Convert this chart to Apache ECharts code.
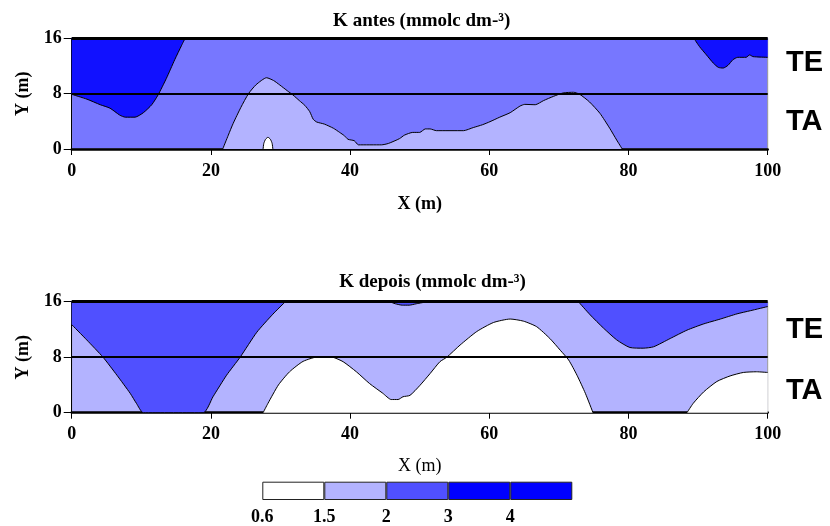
<!DOCTYPE html>
<html>
<head>
<meta charset="utf-8">
<script src="https://cdn.jsdelivr.net/npm/echarts@6/dist/echarts.min.js"></script>
<style>html,body{margin:0;padding:0;background:#fff}#c{width:830px;height:526px}</style>
</head>
<body>
<div id="c"></div>
<script>
// ---------- data ----------
const xTicks = [0, 20, 40, 60, 80, 100];
const yTicks = [0, 8, 16];
const titles = ['K antes (mmolc dm-\u00b3)', 'K depois (mmolc dm-\u00b3)'];
const layerLabels = ['TE', 'TA'];
const legendLabels = ['0.6', '1.5', '2', '3', '4', ''];
const legendColors = ['#ffffff', '#b3b3ff', '#5050ff', '#0000ff', '#0000ff'];

// K antes contours [x, y]
const antesDarkLeft = [[0,7.9],[2.2,7.2],[4.1,6.4],[5.5,5.9],[6.9,4.9],[7.7,4.6],[9.1,4.6],[10.3,5.25],[11.5,6.4],[12.4,7.8],[13.6,10.2],[14.8,12.9],[15.8,15.0],[16.3,16]];
const antesDarkRight = [[89.4,16],[90.2,14.8],[91.2,13.6],[92.2,12.4],[92.9,11.8],[93.6,11.7],[94.3,12.1],[95.0,12.9],[95.7,13.25],[96.9,13.25],[97.4,13.6],[97.9,13.35],[100,13.25]];
const antesLight = [[21.7,0],[22.5,2],[23.2,3.7],[24.3,6.0],[25.4,8.0],[26.5,9.3],[28.0,10.3],[29.0,9.9],[29.9,9.25],[31.0,8.4],[31.8,7.8],[32.7,7.0],[33.5,6.3],[34.2,5.4],[34.7,4.3],[35.2,3.9],[36.3,3.6],[37.6,3.0],[38.5,2.4],[39.2,1.9],[39.7,1.4],[40.6,1.2],[41.2,0.6],[44.5,0.6],[45.5,0.8],[47.1,1.5],[47.8,2.0],[49.0,2.4],[50.0,2.4],[50.8,2.9],[51.5,2.9],[52.4,2.65],[56.3,2.65],[57.7,3.1],[59.0,3.5],[60.1,3.95],[61.5,4.6],[63.0,5.25],[64.4,6.2],[65.1,6.45],[66.6,6.4],[67.8,7.0],[69.2,7.6],[70.6,8.1],[72.1,8.2],[73.0,7.9],[74.4,6.8],[75.9,5.15],[77.3,3.0],[78.3,1.3],[79.1,0]];
const antesWhite = [[27.5,0],[27.6,0.8],[27.85,1.4],[28.2,1.7],[28.55,1.4],[28.8,0.8],[28.9,0]];

// K depois contours [x, y]
const depoisMedLeft = [[0,12.7],[2.15,10.5],[4.5,8.0],[6.5,5.4],[8.4,2.8],[9.3,1.35],[10.3,0],[18.9,0],[20.3,2.3],[22.25,5.4],[24.2,8.0],[26.6,11.6],[28.9,14.2],[30.7,16]];
const depoisMedBlip = [[45.7,16],[46.5,15.7],[47.5,15.5],[48.5,15.5],[49.5,15.7],[51.1,16]];
const depoisMedRight = [[72.8,16],[74.5,14.1],[76.4,12.2],[78.3,10.5],[80.2,9.4],[82.1,9.3],[83.6,9.5],[86.0,10.7],[88.4,11.9],[90.8,12.8],[93.2,13.5],[95.6,14.25],[97.5,14.7],[100,15.3]];
const depoisWhiteHill = [[27.5,0],[28.2,1.35],[29.7,4.0],[31.3,5.9],[33.25,7.4],[35.6,8.1],[37.5,8.0],[39.0,7.35],[40.9,5.9],[42.8,4.2],[44.7,2.8],[45.9,1.9],[46.9,1.9],[47.6,2.3],[48.6,2.5],[50.0,3.9],[51.5,5.65],[52.9,7.35],[53.9,8.0],[55.8,9.75],[58.2,11.7],[60.6,13.0],[63.0,13.5],[64.9,13.2],[66.8,12.4],[68.7,10.7],[70.2,9.0],[71.4,7.6],[72.6,5.4],[73.8,2.8],[74.9,0]];
const depoisWhiteRight = [[88.4,0],[89.3,1.35],[90.8,3.0],[92.7,4.5],[94.6,5.3],[96.5,5.8],[98.4,5.9],[100,5.8]];

// ---------- styling ----------
const SERIF = 'Liberation Serif';
const topBase = '#7777ff', topDark = '#1111ff', light = '#b3b3ff', med = '#5050ff';

function area(gi, data, color, origin) {
  return {
    type: 'line', xAxisIndex: gi, yAxisIndex: gi, data: data,
    symbol: 'none', smooth: 0.2,
    lineStyle: { color: '#000', width: 1 },
    areaStyle: { color: color, opacity: 1, origin: origin },
    z: 2, silent: true
  };
}
function hlines(gi) {
  return {
    type: 'line', xAxisIndex: gi, yAxisIndex: gi, data: [], z: 5, silent: true,
    markLine: {
      silent: true, symbol: ['none', 'none'], label: { show: false },
      lineStyle: { color: '#000', type: 'solid' },
      data: [{ yAxis: yTicks[2], lineStyle: { width: 3 } }, { yAxis: yTicks[1], lineStyle: { width: 2 } }]
    }
  };
}
function xAx(gi, bold, gap) {
  return {
    gridIndex: gi, type: 'value', min: xTicks[0], max: xTicks[xTicks.length - 1], interval: 20,
    axisLine: { show: true, lineStyle: { color: '#000', width: 2.5 } },
    axisTick: { show: true, length: 6, lineStyle: { color: '#000', width: 1 } },
    axisLabel: { color: '#000', fontFamily: SERIF, fontWeight: 'bold', fontSize: 18, margin: 13 },
    splitLine: { show: false },
    name: 'X (m)', nameLocation: 'middle', nameGap: gap,
    nameTextStyle: { color: '#000', fontFamily: SERIF, fontWeight: bold ? 'bold' : 'normal', fontSize: 18 }
  };
}
function yAx(gi) {
  return {
    gridIndex: gi, type: 'value', min: yTicks[0], max: yTicks[2], interval: 8,
    axisLine: { show: true, lineStyle: { color: '#000', width: 1 } },
    axisTick: { show: true, length: 8, lineStyle: { color: '#000', width: 1 } },
    axisLabel: { color: '#000', fontFamily: SERIF, fontWeight: 'bold', fontSize: 18, margin: 10 },
    splitLine: { show: false },
    name: 'Y (m)', nameLocation: 'middle', nameGap: 38,
    nameTextStyle: { color: '#000', fontFamily: SERIF, fontWeight: 'bold', fontSize: 18 }
  };
}

const chart = echarts.init(document.getElementById('c'), null, { renderer: 'canvas' });
chart.setOption({
  animation: false,
  backgroundColor: '#fff',
  grid: [
    { left: 71.7, top: 38.3, width: 696, height: 110.7, show: true, backgroundColor: topBase, borderColor: '#999', borderWidth: 1 },
    { left: 71.7, top: 301.7, width: 696, height: 111, show: true, backgroundColor: light, borderColor: '#999', borderWidth: 1 },
    { left: 262.3, top: 481.7, width: 310, height: 19.6 }
  ],
  xAxis: [
    xAx(0, true, 46),
    xAx(1, false, 45),
    { gridIndex: 2, type: 'category', position: 'top', data: legendColors.map((c, i) => i), show: false },
    { gridIndex: 2, type: 'value', position: 'bottom', min: 0, max: 5, interval: 1,
      axisLine: { show: false }, axisTick: { show: false }, splitLine: { show: false },
      axisLabel: { color: '#000', fontFamily: SERIF, fontWeight: 'bold', fontSize: 18, margin: 8,
        showMaxLabel: true, formatter: v => legendLabels[v] } }
  ],
  yAxis: [
    yAx(0), yAx(1),
    { gridIndex: 2, type: 'value', min: 0, max: 1, show: false }
  ],
  series: [
    area(0, antesDarkLeft, topDark, 'end'),
    area(0, antesDarkRight, topDark, 'end'),
    area(0, antesLight, light, 'start'),
    area(0, antesWhite, '#ffffff', 'start'),
    hlines(0),
    area(1, depoisMedLeft, med, 'end'),
    area(1, depoisMedBlip, med, 'end'),
    area(1, depoisMedRight, med, 'end'),
    area(1, depoisWhiteHill, '#ffffff', 'start'),
    area(1, depoisWhiteRight, '#ffffff', 'start'),
    hlines(1),
    {
      type: 'bar', xAxisIndex: 2, yAxisIndex: 2, barCategoryGap: '0%', silent: true,
      data: legendColors.map(c => ({ value: 1, itemStyle: { color: c, borderColor: '#222', borderWidth: 1 } }))
    }
  ],
  graphic: [
    { type: 'text', x: 421.7, y: 21, style: { text: titles[0], font: 'bold 19px "Liberation Serif"', fill: '#000', textAlign: 'center', textVerticalAlign: 'middle' } },
    { type: 'text', x: 432.5, y: 282, style: { text: titles[1], font: 'bold 19px "Liberation Serif"', fill: '#000', textAlign: 'center', textVerticalAlign: 'middle' } },
    { type: 'text', x: 786, y: 63, style: { text: layerLabels[0], font: 'bold 29px "Liberation Sans"', fill: '#000', textAlign: 'left', textVerticalAlign: 'middle' } },
    { type: 'text', x: 786, y: 122, style: { text: layerLabels[1], font: 'bold 29px "Liberation Sans"', fill: '#000', textAlign: 'left', textVerticalAlign: 'middle' } },
    { type: 'text', x: 786, y: 329.5, style: { text: layerLabels[0], font: 'bold 29px "Liberation Sans"', fill: '#000', textAlign: 'left', textVerticalAlign: 'middle' } },
    { type: 'text', x: 786, y: 390.5, style: { text: layerLabels[1], font: 'bold 29px "Liberation Sans"', fill: '#000', textAlign: 'left', textVerticalAlign: 'middle' } }
  ]
});
</script>
</body>
</html>
